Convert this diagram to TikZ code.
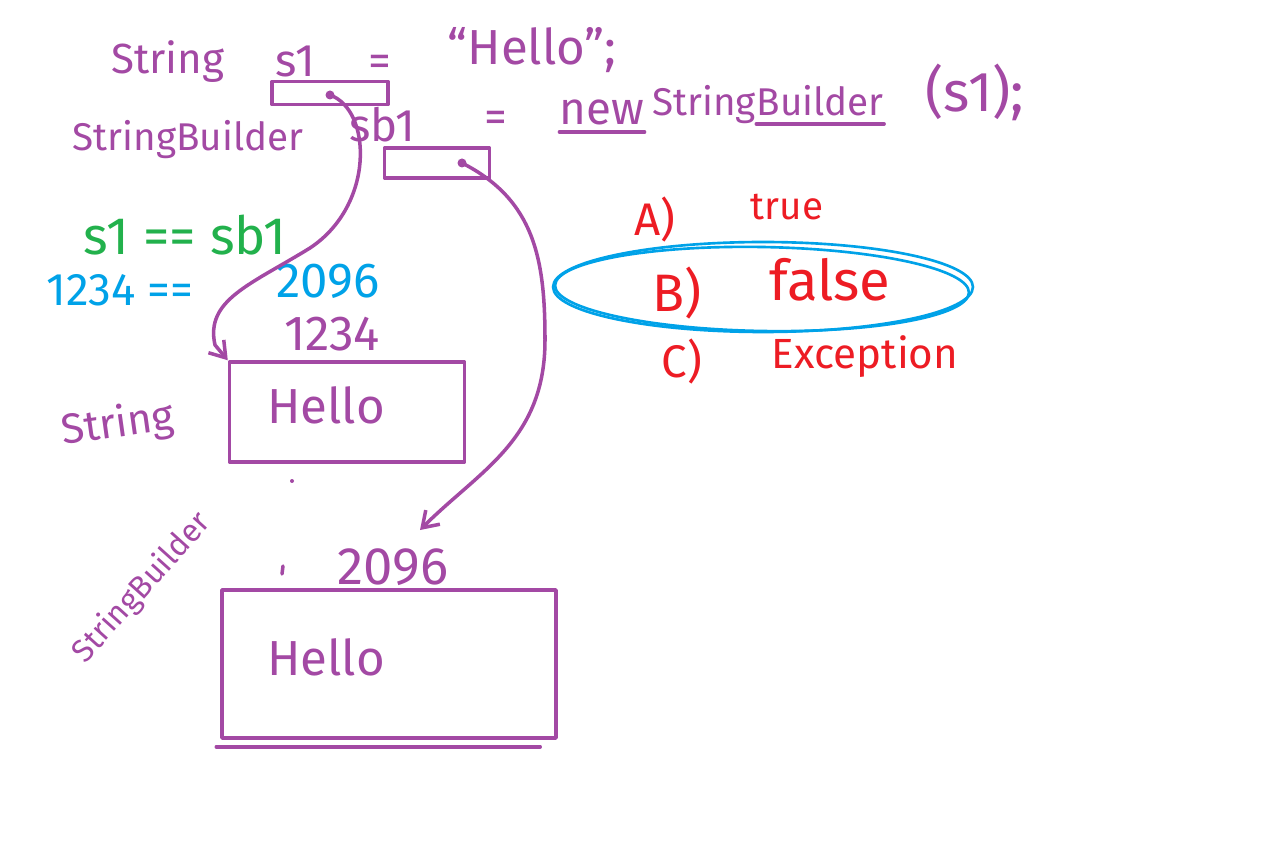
\documentclass[tikz,border=0pt]{standalone}
\usepackage{fontspec}
\setmainfont{Fira Sans}
\usetikzlibrary{arrows.meta}
\definecolor{pcol}{HTML}{A349A4}
\definecolor{gcol}{HTML}{22B14C}
\definecolor{bcol}{HTML}{00A2E8}
\definecolor{rcol}{HTML}{ED1C24}
\newcommand{\fsz}[1]{\fontsize{#1}{#1}\selectfont}
\begin{document}
\begin{tikzpicture}[x=0.02cm,y=-0.02cm,
  pen/.style={draw=pcol, line width=2pt, line cap=round, line join=round},
  ptxt/.style={inner sep=0pt, text=pcol},
  gtxt/.style={inner sep=0pt, text=gcol},
  btxt/.style={inner sep=0pt, text=bcol},
  rtxt/.style={inner sep=0pt, text=rcol},
  membox/.style={pen, rectangle, inner sep=0pt},
  ptr/.style={pen, -{Straight Barb[length=3mm,width=4mm,line width=2pt]}},
  ring/.style={draw=bcol, line width=1.5pt}
]
\useasboundingbox[fill=white] (0,0) rectangle (1264,847);

% ---- code lines
\node[ptxt, font=\fsz{24}] (t1) at (168,62) {String};
\node[ptxt, font=\fsz{26}] (t2) at (295,62) {s1};
\node[ptxt, font=\fsz{26}] (t3) at (380,66) {=};
\node[ptxt, font=\fsz{28}] (t4) at (532,50) {``Hello'';};

\node[ptxt, font=\fsz{22}] (u1) at (188,140) {StringBuilder};
\node[ptxt, font=\fsz{26}] (u2) at (382,125) {sb1};
\node[ptxt, font=\fsz{26}] (u3) at (496,122) {=};
\node[ptxt, font=\fsz{26}] (u4) at (602,112) {new};
\node[ptxt, font=\fsz{22}, anchor=base west] (u5) at (652,116) {String};
\node[ptxt, font=\fsz{22}, anchor=base west] (u6) at (u5.base east) {Builder};
\node[ptxt, font=\fsz{32}] (u7) at (975,92) {(s1);};
\draw[pen] ([yshift=-4pt]u4.south west) -- ([yshift=-4pt]u4.south east);
\draw[pen] ([yshift=-4pt]u6.south west) -- ([yshift=-4pt]u6.south east);

% ---- reference boxes
\node[membox, minimum width=2.32cm, minimum height=0.46cm] (s1box) at (330,93) {};
\node[membox, minimum width=2.1cm, minimum height=0.6cm] (sb1box) at (437,163) {};
\coordinate (d1) at (330,95);
\coordinate (d2) at (462,163);
\fill[pcol] (d1) circle[radius=0.09cm];
\fill[pcol] (d2) circle[radius=0.09cm];

% ---- comparison
\node[gtxt, font=\fsz{30}] (cmp) at (185,235) {s1 == sb1};
\node[btxt, font=\fsz{26}] (b1) at (120,290) {1234 ==};
\node[btxt, font=\fsz{28}] (b2) at (328,281) {2096};

% ---- String object
\node[ptxt, font=\fsz{28}] (a1) at (332,334) {1234};
\node[membox, minimum width=4.7cm, minimum height=2.0cm] (strbox) at (347,412) {};
\node[ptxt, font=\fsz{28}] (h1) at (326,405) {Hello};
\node[ptxt, font=\fsz{24}, rotate=8] (l1) at (118,425) {String};
\fill[pcol] (292,481) circle[radius=0.04cm];

% ---- StringBuilder object
\node[ptxt, font=\fsz{18}, rotate=48] (l2) at (142,588) {StringBuilder};
\node[ptxt, font=\fsz{30}] (a2) at (393,567) {2096};
\draw[pen] (283,566) -- (282,574);
\node[membox, minimum width=6.68cm, minimum height=2.96cm] (sbbox) at (389,664) {};
\draw[pen] ([xshift=-0.08cm,yshift=-0.14cm]sbbox.south west) -- ([xshift=-0.35cm,yshift=-0.14cm]sbbox.south east);
\node[ptxt, font=\fsz{28}] (h2) at (326,657) {Hello};
\coordinate (e2) at (420,530);

% ---- pointers
\draw[ptr] (d1) .. controls (372,110) and (375,205) .. (310,248)
  .. controls (250,285) and (205,300) .. (215,345) -- (strbox.north west);
\draw[ptr] (d2) .. controls (535,200) and (545,260) .. (545,340)
  .. controls (545,440) and (480,470) .. (e2);

% ---- answers
\node[rtxt, font=\fsz{26}] (qa) at (655,220) {A)};
\node[rtxt, font=\fsz{22}] (qat) at (787,207) {true};
\node[rtxt, font=\fsz{30}] (qb) at (677,293) {B)};
\node[rtxt, font=\fsz{32}] (qbt) at (830,280) {false};
\node[rtxt, font=\fsz{26}] (qc) at (682,362) {C)};
\node[rtxt, font=\fsz{24}] (qct) at (865,357) {Exception};
\draw[ring] (763,287) ellipse [x radius=4.2cm, y radius=0.9cm];
\draw[ring, rotate around={-1:(762,289)}] (762,289) ellipse [x radius=4.14cm, y radius=0.84cm];
\end{tikzpicture}
\end{document}
